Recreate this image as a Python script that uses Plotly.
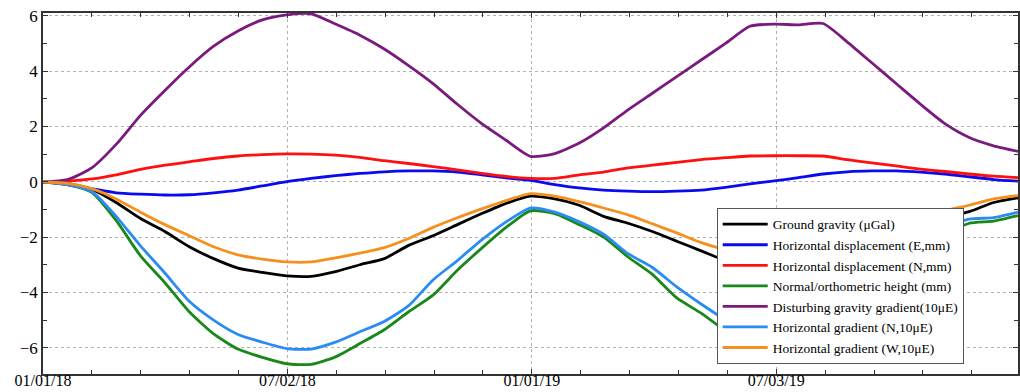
import plotly.graph_objects as go

# day offsets from 01/01/2018 (sampled every 18.2 days)
days = [k * 18.2 for k in range(41)]

ground_gravity = [0, -0.06, -0.27, -0.75, -1.33, -1.8, -2.35, -2.78, -3.12, -3.28,
                  -3.4, -3.42, -3.25, -3.0, -2.78, -2.3, -1.95, -1.55, -1.15, -0.78,
                  -0.52, -0.62, -0.85, -1.25, -1.5, -1.8, -2.15, -2.5, -2.85, -3.05,
                  -3.15, -3.15, -2.95, -2.65, -2.25, -1.85, -1.5, -1.28, -1.08, -0.75, -0.58]
disp_e = [0, -0.1, -0.25, -0.4, -0.45, -0.48, -0.47, -0.4, -0.3, -0.15,
          0.0, 0.12, 0.22, 0.3, 0.36, 0.39, 0.39, 0.35, 0.25, 0.14,
          0.05, -0.1, -0.22, -0.3, -0.34, -0.36, -0.34, -0.3, -0.2, -0.08,
          0.03, 0.15, 0.28, 0.36, 0.39, 0.39, 0.35, 0.28, 0.18, 0.08, 0.02]
disp_n = [0, 0.02, 0.1, 0.25, 0.45, 0.6, 0.72, 0.84, 0.93, 0.98,
          1.01, 1.0, 0.96, 0.88, 0.76, 0.66, 0.55, 0.43, 0.3, 0.19,
          0.12, 0.12, 0.25, 0.35, 0.5, 0.6, 0.7, 0.8, 0.87, 0.93,
          0.94, 0.94, 0.93, 0.8, 0.68, 0.57, 0.46, 0.37, 0.28, 0.2, 0.15]
height = [0, -0.1, -0.38, -1.4, -2.68, -3.65, -4.7, -5.5, -6.05, -6.35,
          -6.58, -6.6, -6.33, -5.85, -5.35, -4.7, -4.1, -3.2, -2.4, -1.65,
          -1.05, -1.15, -1.55, -2.0, -2.72, -3.35, -4.2, -4.75, -5.4, -6.05,
          -6.2, -6.22, -6.26, -5.5, -4.5, -3.5, -2.6, -1.9, -1.5, -1.42, -1.22]
dist_grad = [0, 0.08, 0.5, 1.35, 2.4, 3.3, 4.15, 4.9, 5.45, 5.85,
             6.03, 6.07, 5.7, 5.3, 4.8, 4.2, 3.55, 2.8, 2.1, 1.5,
             0.92, 1.02, 1.4, 1.95, 2.6, 3.2, 3.8, 4.4, 5.0, 5.62,
             5.7, 5.67, 5.72, 5.05, 4.3, 3.55, 2.8, 2.1, 1.6, 1.3, 1.1]
grad_n = [0, -0.1, -0.35, -1.25, -2.32, -3.3, -4.32, -5.0, -5.52, -5.8,
          -6.03, -6.05, -5.8, -5.42, -5.05, -4.48, -3.55, -2.85, -2.1, -1.45,
          -0.95, -1.1, -1.45, -1.9, -2.6, -3.1, -3.8, -4.42, -5.0, -5.55,
          -5.8, -5.85, -5.8, -5.1, -4.2, -3.2, -2.3, -1.65, -1.35, -1.3, -1.1]
grad_w = [0, -0.06, -0.25, -0.62, -1.1, -1.55, -1.95, -2.35, -2.64, -2.8,
          -2.9, -2.9, -2.75, -2.58, -2.38, -2.05, -1.65, -1.3, -0.98, -0.68,
          -0.43, -0.52, -0.72, -0.95, -1.2, -1.52, -1.85, -2.2, -2.45, -2.6,
          -2.65, -2.6, -2.45, -2.2, -1.9, -1.55, -1.3, -1.05, -0.85, -0.62, -0.5]

x_tickvals = [0, 182.5, 365, 547.5]
x_ticktext = ["01/01/18", "07/02/18", "01/01/19", "07/03/19"]
y_tickvals = [-6, -4, -2, 0, 2, 4, 6]

series = [
    ("Ground gravity (μGal)", ground_gravity, "#000000"),
    ("Horizontal displacement (E,mm)", disp_e, "#0a0aee"),
    ("Horizontal displacement (N,mm)", disp_n, "#ff1010"),
    ("Normal/orthometric height (mm)", height, "#18881a"),
    ("Disturbing gravity gradient(10μE)", dist_grad, "#7a1a7e"),
    ("Horizontal gradient (N,10μE)", grad_n, "#2a8cf2"),
    ("Horizontal gradient (W,10μE)", grad_w, "#f5901e"),
]

fig = go.Figure()
for name, vals, col in series:
    fig.add_trace(go.Scatter(x=days, y=vals, mode="lines", name=name,
                             line=dict(color=col, width=2.8, shape="spline", smoothing=0.6)))

axis_font = dict(family="Liberation Serif", size=17, color="black")
fig.update_xaxes(range=[0, 728], tickmode="array", tickvals=x_tickvals, ticktext=x_ticktext,
                 ticks="inside", ticklen=5, tickcolor="#333", showline=True, linecolor="#333",
                 linewidth=1.5, mirror="ticks", showgrid=True, gridcolor="#b0b0b0",
                 griddash="dot", gridwidth=1, zeroline=False,
                 tickfont=dict(family="Liberation Serif", size=16, color="black"),
                 ticklabelstandoff=-9,
                 minor=dict(dtick=36.5, tick0=0, ticks="inside", ticklen=4, tickcolor="#333",
                            showgrid=False),
                 automargin=False)
fig.update_yaxes(range=[-6.95, 6.1], tickmode="array", tickvals=y_tickvals,
                 ticks="inside", ticklen=5, tickcolor="#333", showline=True, linecolor="#333",
                 linewidth=1.5, mirror="ticks", showgrid=True, gridcolor="#b0b0b0",
                 griddash="dot", gridwidth=1, zeroline=False, tickfont=axis_font,
                 minor=dict(dtick=1, tick0=0, ticks="inside", ticklen=4, tickcolor="#333",
                            showgrid=False),
                 automargin=False)
fig.update_layout(width=1020, height=392, margin=dict(l=43, r=2, t=13, b=18),
                  paper_bgcolor="white", plot_bgcolor="white",
                  legend=dict(x=0.691, y=0.46, xanchor="left", yanchor="top",
                              bgcolor="white", bordercolor="#555", borderwidth=1,
                              font=dict(family="Liberation Serif", size=13.5, color="black"),
                              tracegroupgap=0, itemwidth=45))
fig.write_html("out.html")
